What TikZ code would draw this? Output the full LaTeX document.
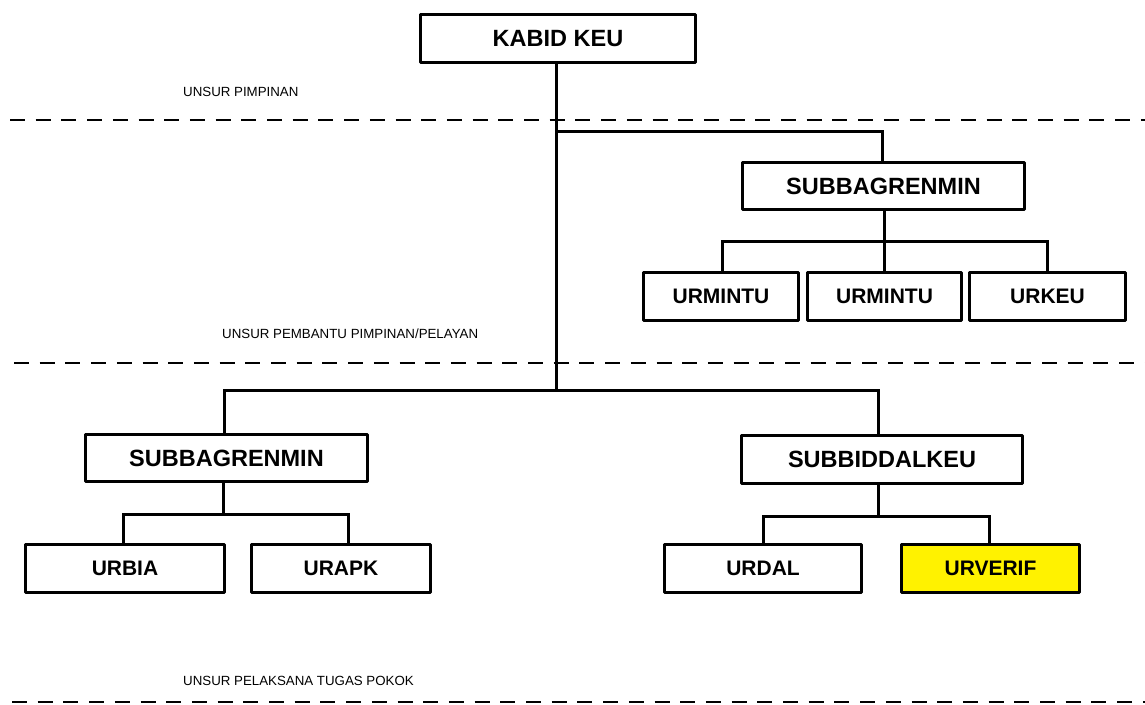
\documentclass[tikz,border=0pt]{standalone}
\usepackage{fontspec}
\setmainfont{Liberation Sans}
\begin{document}
\begin{tikzpicture}[x=1pt,y=-1pt,
  unitbox/.style={draw, line width=3pt, line join=round, rectangle, inner sep=0pt,
    minimum height=48pt, font=\fontsize{23.5}{26}\selectfont\bfseries},
  leafbox/.style={unitbox, font=\fontsize{21}{24}\selectfont\bfseries},
  conn/.style={draw, line width=3pt},
  sep/.style={line width=2.8pt, dash pattern=on 15pt off 10.7pt},
  lvl/.style={anchor=west, inner sep=0pt, font=\fontsize{13.3}{15}\selectfont}]
\useasboundingbox (0,0) rectangle (1145,704);

% level separators
\draw[sep] (10,120) -- (1145,120);
\draw[sep] (14,363) -- (1145,363);
\draw[sep] (12,702) -- (1145,702);

% level captions
\node[lvl] (lp) at (183,92) {UNSUR PIMPINAN};
\node[lvl] (lpp) at (222,334) {UNSUR PEMBANTU PIMPINAN/PELAYAN};
\node[lvl] (lpt) at (183,681) {UNSUR PELAKSANA TUGAS POKOK};

% units
\node[unitbox, minimum width=275pt] (kabid) at (558,38.5) {KABID KEU};
\node[unitbox, minimum width=282pt, minimum height=47pt] (sbtop) at (883.5,186) {SUBBAGRENMIN};
\node[leafbox, minimum width=155pt] (urm1) at (721,296.5) {URMINTU};
\node[leafbox, minimum width=154pt] (urm2) at (884.5,296.5) {URMINTU};
\node[leafbox, minimum width=156pt] (urkeu) at (1047.5,296.5) {URKEU};
\node[unitbox, minimum width=282pt, minimum height=47pt] (sbl) at (226.5,458) {SUBBAGRENMIN};
\node[unitbox, minimum width=281pt] (sbr) at (882,459) {SUBBIDDALKEU};
\node[leafbox, minimum width=199pt] (urbia) at (125,568.5) {URBIA};
\node[leafbox, minimum width=179pt] (urapk) at (341,568.5) {URAPK};
\node[leafbox, minimum width=197pt] (urdal) at (763,568.5) {URDAL};
\node[leafbox, minimum width=178pt, fill=yellow] (urverif) at (990.5,568.5) {URVERIF};

% bus levels
\coordinate (bus1) at (556,131);
\coordinate (bus2) at (556,390);
\coordinate (bus3) at (223,514);
\coordinate (bus4) at (884,241);
\coordinate (bus5) at (878,516);

% connectors
\draw[conn] ([xshift=-2pt]kabid.south) -- (bus2);
\draw[conn] (bus1) -| ([xshift=-1.5pt]sbtop.north);
\draw[conn] ([xshift=-2.5pt]sbl.north) |- (bus2) -| ([xshift=-4pt]sbr.north);
\draw[conn] ([xshift=0.5pt]sbtop.south) -- (bus4);
\draw[conn] ([xshift=1pt]urm1.north) |- (bus4) -| ([xshift=-0.5pt]urkeu.north);
\draw[conn] (bus4) -- ([xshift=-0.5pt]urm2.north);
\draw[conn] ([xshift=-3.5pt]sbl.south) -- (bus3);
\draw[conn] ([xshift=-2pt]urbia.north) |- (bus3) -| ([xshift=7pt]urapk.north);
\draw[conn] ([xshift=-4pt]sbr.south) -- (bus5);
\draw[conn] (urdal.north) |- (bus5) -| ([xshift=-1.5pt]urverif.north);
\end{tikzpicture}
\end{document}
